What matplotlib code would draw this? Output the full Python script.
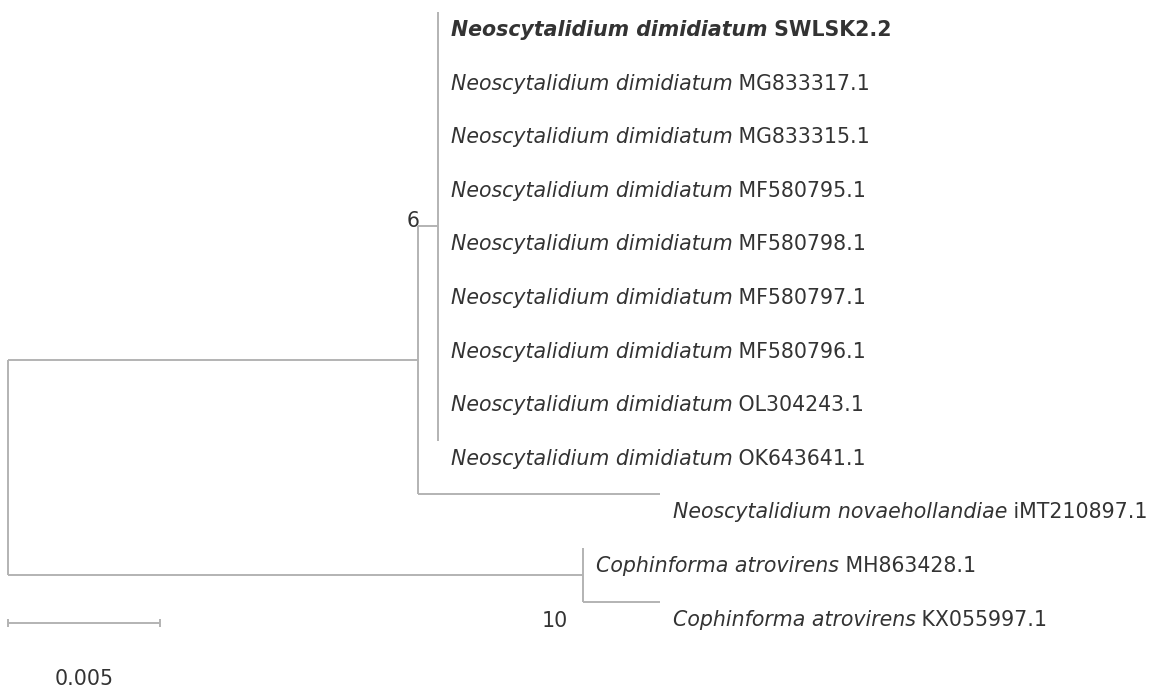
import matplotlib
matplotlib.use("Agg")
import matplotlib.pyplot as plt

# ---- data -------------------------------------------------------------
dimid_accessions = ["SWLSK2.2", "MG833317.1", "MG833315.1", "MF580795.1",
                    "MF580798.1", "MF580797.1", "MF580796.1", "OL304243.1",
                    "OK643641.1"]
dimid_species = "Neoscytalidium dimidiatum"
novae_species = "Neoscytalidium novaehollandiae"
novae_accession = "iMT210897.1"
coph_species = "Cophinforma atrovirens"
coph_accessions = ["MH863428.1", "KX055997.1"]

# branch lengths (substitutions/site)
root_to_neo = 0.01349
neo_to_dimid = 0.00066
dimid_tip_lengths = [0.0] * 9
neo_to_novae = 0.00796
root_to_coph = 0.01892
coph_tip_lengths = [0.0, 0.00253]

bootstrap_dimid = "6"
bootstrap_coph = "10"
scale_length = 0.005
scale_label = "0.005"
bold_tip = "SWLSK2.2"

# ---- tree -------------------------------------------------------------
tree = {"len": 0.0, "children": [
    {"len": root_to_neo, "children": [
        {"len": neo_to_dimid, "boot": bootstrap_dimid, "children": [
            {"len": l, "sp": dimid_species, "acc": a}
            for a, l in zip(dimid_accessions, dimid_tip_lengths)]},
        {"len": neo_to_novae, "sp": novae_species, "acc": novae_accession},
    ]},
    {"len": root_to_coph, "boot": bootstrap_coph, "children": [
        {"len": l, "sp": coph_species, "acc": a}
        for a, l in zip(coph_accessions, coph_tip_lengths)]},
]}

W, H = 1169, 691
fig = plt.figure(figsize=(W / 100, H / 100), dpi=100)
ax = fig.add_axes([0, 0, 1, 1])
ax.axis("off")

px = scale_length / 152.0
ax.set_xlim(-8 * px, (W - 8) * px)
ax.set_ylim((H - 12) / 53.6, -12 / 53.6)

line_kw = dict(color="#b3b3b3", lw=1.4, solid_capstyle="butt")
text_col = "#333333"
FS = 14.8
FAM = ["DejaVu Sans"]

counter = [0]
tips = []
nodes = []


def layout(node, x0):
    x = x0 + node["len"]
    node["x"] = x
    if "children" in node:
        ys = [layout(c, x) for c in node["children"]]
        node["y"] = (ys[0] + ys[-1]) / 2.0
        nodes.append(node)
    else:
        node["y"] = counter[0]
        counter[0] += 1
        tips.append(node)
    return node["y"]


layout(tree, 0.0)


def draw(node, xparent):
    ax.plot([xparent, node["x"]], [node["y"], node["y"]], **line_kw)
    if "children" in node:
        ys = [c["y"] for c in node["children"]]
        ax.plot([node["x"], node["x"]], [min(ys), max(ys)], **line_kw)
        for c in node["children"]:
            draw(c, node["x"])


draw(tree, 0.0)

# tip labels
for t in tips:
    bold = t["acc"] == bold_tip
    t1 = ax.annotate(t["sp"], xy=(t["x"], t["y"]), xytext=(9, -13),
                     textcoords="offset points", ha="left", va="center",
                     fontsize=FS, style="italic", family=FAM,
                     fontweight="bold" if bold else "normal", color=text_col)
    ax.annotate(" " + t["acc"], xy=(1, 0), xycoords=t1, ha="left", va="bottom",
                fontsize=FS, family=FAM,
                fontweight="bold" if bold else "normal", color=text_col)

# bootstrap labels
for n in nodes:
    if n.get("boot") == bootstrap_dimid:
        ax.annotate(n["boot"], xy=(n["x"] - neo_to_dimid, n["y"]), xytext=(1, 4),
                    textcoords="offset points", ha="right", va="center",
                    fontsize=FS, family=FAM, color=text_col)
    elif n.get("boot") == bootstrap_coph:
        ax.annotate(n["boot"], xy=(n["x"], n["y"]), xytext=(-11, -33),
                    textcoords="offset points", ha="right", va="center",
                    fontsize=FS, family=FAM, color=text_col)

# scale bar
ys = (623 - 12) / 53.6
ax.plot([0, scale_length], [ys, ys], **line_kw)
ax.plot([0, 0], [ys - 0.07, ys + 0.07], **line_kw)
ax.plot([scale_length, scale_length], [ys - 0.07, ys + 0.07], **line_kw)
ax.annotate(scale_label, xy=(scale_length / 2, ys), xytext=(0, -40),
            textcoords="offset points", ha="center", va="center",
            fontsize=FS, family=FAM, color=text_col)

fig.savefig("out.png", dpi=100, facecolor="white")
